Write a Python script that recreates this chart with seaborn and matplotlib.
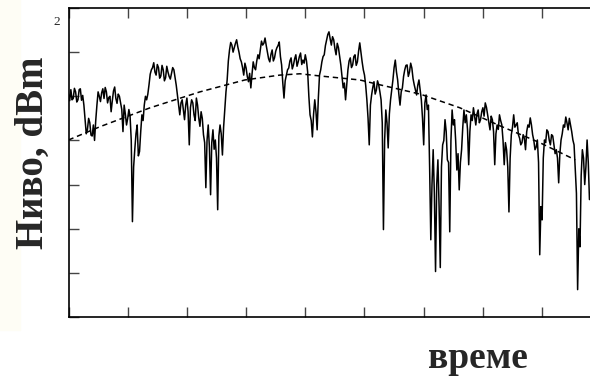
import numpy as np
import pandas as pd
import matplotlib
matplotlib.use("Agg")
import matplotlib.pyplot as plt
from matplotlib.patches import Rectangle
import seaborn as sns

# received level (dBm), one reading every 0.04 time units
sample_interval = 0.04
level = [
    -49.5, -48.5, -50.5, -49.0, -50.8, -48.3, -49.8, -55.3, -57.5, -56.0,
    -59.0, -60.0, -52.0, -50.0, -49.2, -50.5, -49.0, -50.3, -53.5, -48.8,
    -50.5, -49.5, -51.5, -58.0, -54.0, -55.0, -54.5, -78.4, -62.0, -56.5,
    -62.5, -54.2, -52.0, -50.8, -47.4, -44.0, -42.4, -45.2, -43.5, -45.4,
    -44.0, -45.8, -44.5, -46.1, -43.5, -45.8, -49.7, -54.2, -50.8, -55.3,
    -50.4, -61.0, -50.8, -54.2, -50.4, -54.9, -53.5, -58.7, -70.7, -56.5,
    -72.3, -57.6, -59.9, -75.7, -56.5, -63.3, -53.1, -46.3, -39.5, -38.4,
    -39.0, -37.2, -40.0, -42.2, -45.2, -43.6, -46.7, -48.1, -42.2, -44.0,
    -40.6, -39.5, -38.4, -36.8, -40.0, -42.2, -39.5, -41.3, -39.0, -37.7,
    -42.9, -50.4, -45.2, -43.6, -41.3, -42.9, -40.6, -42.2, -40.2, -41.8,
    -40.6, -44.5, -54.2, -59.2, -50.8, -57.6, -45.2, -42.2, -40.6, -37.2,
    -35.4, -38.4, -37.2, -40.6, -39.0, -42.9, -48.1, -50.8, -44.0, -41.3,
    -42.9, -40.6, -42.2, -37.9, -42.2, -45.2, -50.8, -61.0, -49.7, -46.7,
    -48.6, -47.4, -50.8, -80.2, -53.1, -61.7, -50.8, -46.3, -41.8, -46.3,
    -52.0, -48.1, -44.0, -42.9, -44.5, -43.6, -47.4, -49.7, -46.3, -50.8,
    -61.0, -49.7, -52.0, -82.5, -62.1, -89.7, -64.4, -88.8, -61.0, -55.3,
    -64.4, -80.7, -53.1, -55.3, -66.7, -71.2, -62.1, -53.1, -54.2, -65.5,
    -54.2, -52.6, -56.5, -53.1, -55.3, -52.6, -51.5, -54.2, -57.6, -55.3,
    -65.5, -56.5, -54.2, -56.5, -65.5, -62.1, -76.2, -58.7, -54.2, -56.5,
    -58.7, -61.0, -58.7, -62.1, -56.5, -54.9, -58.7, -62.1, -59.9, -85.9,
    -78.0, -59.9, -57.6, -59.9, -58.7, -61.0, -62.1, -69.6, -59.9, -56.5,
    -54.7, -57.6, -56.5, -59.9, -66.7, -93.8, -84.1, -62.1, -70.0, -59.9,
    -73.4,
]
# readings half-way between the ones above (fast fading ripple)
level_mid = [
    -51.0, -50.8, -48.2, -51.3, -48.5, -50.9, -52.0,
    -58.5, -55.0, -58.8, -56.5, -55.5,
    -49.0, -51.2, -48.3, -48.0, -51.5, -50.0,
    -51.0, -47.9, -51.6, -50.0,
    -53.0, -52.0, -56.5, -53.0, -60.0,
    -66.0, -58.5, -63.5, -58.0, -55.5, -50.0, -49.5,
    -45.0, -43.5, -44.5, -42.8, -45.9, -43.0, -46.5, -43.2, -45.5, -44.8,
    -44.0, -47.5, -52.0,
    -51.5, -53.0, -52.0, -53.5, -52.5, -51.5, -55.5, -52.0, -56.8, -55.0,
    -60.5,
    -60.0, -61.5, -60.5, -62.0, -64.0, -59.0, -58.5, -57.0, -49.0,
    -42.0, -37.8, -40.0, -38.0, -38.8, -41.5, -43.5, -42.5,
    -45.5, -44.8, -45.0, -43.5, -42.0, -41.5, -37.5, -38.0, -38.5, -41.5,
    -40.5, -42.0, -39.8, -38.5, -41.0, -47.0,
    -46.5, -44.0, -42.0, -43.8, -41.5, -43.2, -41.0, -42.8, -42.5, -42.0,
    -50.0,
    -55.5, -54.0, -53.5, -50.5, -44.0, -41.0, -38.5,
    -36.0, -37.0, -36.5, -39.2, -38.0, -41.0, -45.5, -47.0, -47.5, -42.0,
    -43.5, -41.0, -43.0, -39.8, -40.0, -44.0, -47.5,
    -55.0, -52.0, -48.0, -49.5, -46.5, -49.0, -56.0, -60.0, -56.0, -54.0,
    -48.5, -43.5,
    -44.5, -49.5, -49.0, -45.5, -43.0, -45.5, -42.5, -46.0, -48.5, -47.5,
    -48.5, -55.0,
    -51.5, -53.0, -66.0, -70.0, -72.0, -70.0, -75.0, -66.0, -60.0, -58.0,
    -65.0, -60.0,
    -56.5, -60.0, -63.0, -65.0, -57.0, -56.0, -57.5, -58.0, -55.5, -54.5,
    -54.0, -56.0, -53.5, -54.5, -52.5, -56.0, -54.5, -58.0,
    -58.5, -57.5, -55.5, -60.0, -60.5, -66.0, -64.0, -57.0, -57.0, -56.0,
    -59.5, -60.5, -59.5, -58.0, -57.0, -56.5, -60.0, -61.5, -65.0,
    -75.0, -64.0, -60.5, -58.0, -61.0, -59.0, -63.0, -64.0, -63.0, -58.5,
    -57.0,
    -56.0, -55.0, -58.0, -61.0, -72.0, -80.0, -68.0, -64.0, -66.0, -65.0,
]
time = np.arange(len(level)) * sample_interval
time_mid = time[:-1] + sample_interval / 2

# smooth trend (dashed)
trend_time = [0.0, 0.53, 1.38, 2.22, 2.98, 3.57, 3.91, 4.25, 4.92, 5.26,
              5.94, 6.61, 7.29, 7.96, 8.56]
trend_level = [-59.9, -56.9, -52.6, -49.0, -46.3, -45.2, -44.9, -45.4, -46.3,
               -47.4, -49.5, -52.6, -56.7, -60.5, -64.4]

x_ticks = list(range(0, 10))
y_ticks = list(range(-100, -29, 10))

sns.set_style("ticks")
fig = plt.figure(figsize=(5.9, 3.79), dpi=100)
fig.patches.append(Rectangle((0, 1 - 330 / 379), 20 / 590, 330 / 379,
                             transform=fig.transFigure, color="#fefdf5",
                             zorder=0))
ax = fig.add_axes([68.5 / 590, 62 / 379, (601.3 - 68.5) / 590, 309 / 379])

sig = pd.concat([pd.DataFrame({"t": time, "level": level}),
                 pd.DataFrame({"t": time_mid, "level": level_mid})])
sig = sig.sort_values("t")
tr = pd.DataFrame({"t": trend_time, "level": trend_level})
sns.lineplot(data=sig, x="t", y="level", ax=ax, color="black", lw=1.1,
             estimator=None, sort=False)
sns.lineplot(data=tr, x="t", y="level", ax=ax, color="black", lw=1.1,
             estimator=None, sort=False, linestyle=(0, (3.5, 2.5)))

ax.set_xlim(0, 9)
ax.set_ylim(-100, -30)
ax.set_xticks(x_ticks)
ax.set_yticks(y_ticks)
ax.tick_params(direction="in", length=7, width=1, color="#444444",
               top=True, right=True, labelbottom=False, labelleft=False)
for s in ax.spines.values():
    s.set_color("black")
    s.set_linewidth(1.2)
ax.set_xlabel("")
ax.set_ylabel("")

fig.text(57 / 590, 1 - 22 / 379, "2", fontsize=9.5, family="Liberation Serif",
         ha="center", va="center")
fig.text(33 / 590, 1 - 153 / 379, "Ниво, dBm", rotation=90, fontsize=28,
         fontweight="bold", family="Liberation Serif", ha="center",
         va="center")
fig.text(478 / 590, 1 - 368 / 379, "време", fontsize=27, fontweight="bold",
         family="Liberation Serif", ha="center", va="baseline")

fig.savefig("out.png", dpi=100)
